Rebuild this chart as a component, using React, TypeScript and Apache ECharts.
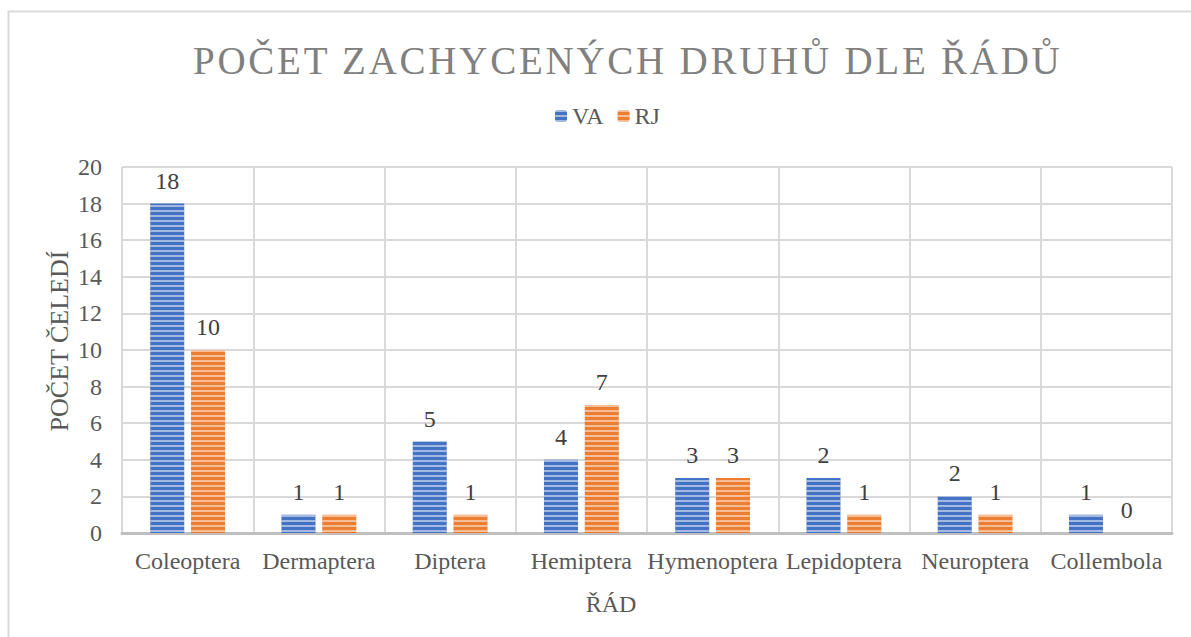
import React, { useEffect, useRef } from "react";
import * as echarts from "echarts";

const categories = ["Coleoptera", "Dermaptera", "Diptera", "Hemiptera", "Hymenoptera", "Lepidoptera", "Neuroptera", "Collembola"];
const vaValues = [18, 1, 5, 4, 3, 3, 2, 1];
const rjValues = [10, 1, 1, 7, 3, 1, 1, 0];
const vaLabels = ["18", "1", "5", "4", "3", "2", "2", "1"];
const rjLabels = ["10", "1", "1", "7", "3", "1", "1", "0"];
const yTicks = { min: 0, max: 20, interval: 2 };
const TITLE = "POČET ZACHYCENÝCH DRUHŮ DLE ŘÁDŮ";
const X_NAME = "ŘÁD";
const Y_NAME = "POČET ČELEDÍ";

const FONT = "'Liberation Serif', 'Times New Roman', serif";
const GRAY = "#595959";

export default function App() {
  const ref = useRef<HTMLDivElement>(null);
  useEffect(() => {
    const chart = echarts.init(ref.current!, null, { renderer: "svg" });
    const decal = {
      symbol: "rect",
      symbolSize: 1,
      dashArrayX: [1, 0],
      dashArrayY: [1.5, 2.5],
      rotation: 0,
      color: "rgba(255,255,255,0.5)",
    };
    const mkSeries = (name: string, data: number[], labels: string[], color: string) => ({
      name,
      type: "bar",
      data,
      barWidth: 34,
      barGap: "20%",
      itemStyle: { color, decal: { ...decal } },
      label: {
        show: true,
        position: "top",
        distance: 11,
        fontFamily: FONT,
        fontSize: 24,
        color: "#404040",
        formatter: (p: any) => labels[p.dataIndex],
      },
    });
    chart.setOption({
      animation: false,
      backgroundColor: "#fff",
      title: {
        text: TITLE,
        left: 193,
        top: 41,
        padding: 0,
        textStyle: { fontFamily: FONT, fontSize: 39, fontWeight: "normal", color: "#808080" },
      },
      legend: {
        top: 99,
        left: 550,
        itemWidth: 12,
        itemHeight: 12,
        itemGap: 14,
        textStyle: { fontFamily: FONT, fontSize: 24, color: GRAY },
        data: ["VA", "RJ"],
      },
      graphic: [
        {
          type: "rect",
          shape: { x: 8.5, y: 11.5, width: 1300, height: 700 },
          style: { fill: "none", stroke: "#d9d9d9", lineWidth: 2 },
          silent: true,
          z: -10,
        },
        {
          type: "text",
          x: 611,
          y: 604,
          style: {
            text: X_NAME,
            fontFamily: FONT,
            fontSize: 24,
            fill: GRAY,
            textAlign: "center",
            textVerticalAlign: "middle",
          },
        },
        {
          type: "text",
          x: 59,
          y: 341,
          rotation: Math.PI / 2,
          style: {
            text: Y_NAME,
            fontFamily: FONT,
            fontSize: 26,
            fill: GRAY,
            textAlign: "center",
            textVerticalAlign: "middle",
          },
        },
      ],
      grid: { left: 122, right: 19, top: 167, bottom: 104 },
      xAxis: {
        type: "category",
        data: categories,
        axisLine: { lineStyle: { color: "#bfbfbf", width: 3 } },
        axisTick: { show: false },
        axisLabel: { fontFamily: FONT, fontSize: 24, color: GRAY, margin: 16, interval: 0 },
        splitLine: { show: true, lineStyle: { color: "#d9d9d9", width: 2 } },
      },
      yAxis: {
        type: "value",
        min: yTicks.min,
        max: yTicks.max,
        interval: yTicks.interval,
        axisLine: { show: false },
        axisTick: { show: false },
        axisLabel: { fontFamily: FONT, fontSize: 24, color: GRAY, margin: 20 },
        splitLine: { lineStyle: { color: "#d9d9d9", width: 2 } },
      },
      series: [
        mkSeries("VA", vaValues, vaLabels, "#4472C4"),
        mkSeries("RJ", rjValues, rjLabels, "#ED7D31"),
      ],
    });
    const texts = ref.current!.querySelectorAll("text");
    texts.forEach((t) => {
      if (t.textContent === TITLE) t.setAttribute("letter-spacing", "2.75");
    });
    return () => chart.dispose();
  }, []);
  return <div ref={ref} style={{ position: "absolute", left: 0, top: 0, width: 1191, height: 637 }} />;
}
